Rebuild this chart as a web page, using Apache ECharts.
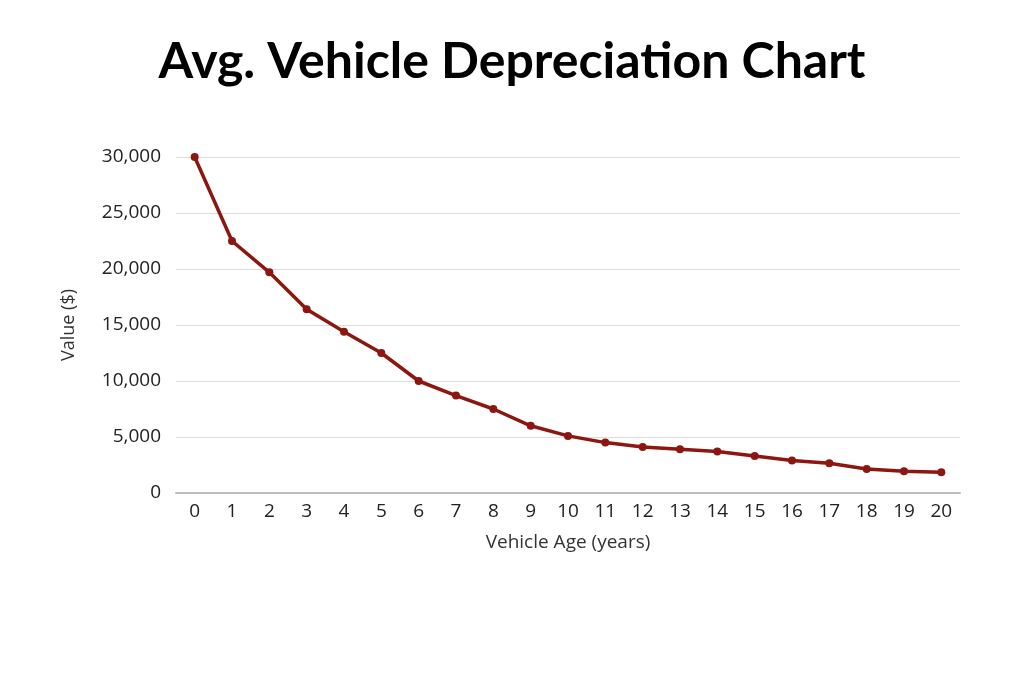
<!DOCTYPE html>
<html>
<head>
<meta charset="utf-8">
<script src="https://cdn.jsdelivr.net/npm/echarts@6/dist/echarts.min.js"></script>
<style>html,body{margin:0;padding:0;background:#fff}#c{width:1024px;height:683px}</style>
</head>
<body>
<div id="c"></div>
<script>
const titleText = "Avg. Vehicle Depreciation Chart";
const ages = ["0","1","2","3","4","5","6","7","8","9","10","11","12","13","14","15","16","17","18","19","20"];
const values = [30000,22500,19700,16400,14400,12500,10000,8700,7500,6000,5100,4500,4100,3900,3700,3300,2900,2650,2150,1950,1850];
const xName = "Vehicle Age (years)";
const yName = "Value ($)";

const chart = echarts.init(document.getElementById('c'));
chart.setOption({
  animation: false,
  title: {
    text: titleText, left: 'center', top: 32,
    textStyle: {fontFamily: 'Lato', fontWeight: 'bold', fontSize: 50, color: '#000'}
  },
  grid: {left: 176, right: 64, top: 157, bottom: 190, containLabel: false},
  xAxis: {
    type: 'category', data: ages, boundaryGap: true,
    name: xName, nameLocation: 'middle', nameGap: 40,
    nameTextStyle: {fontFamily: 'Open Sans', fontSize: 19, color: '#333'},
    axisLine: {lineStyle: {color: '#bdbdbd', width: 2}},
    axisTick: {show: false},
    axisLabel: {fontFamily: 'Open Sans', fontSize: 19, color: '#222', margin: 9}
  },
  yAxis: {
    type: 'value', min: 0, max: 30000, interval: 5000,
    name: yName, nameLocation: 'middle', nameGap: 98,
    nameTextStyle: {fontFamily: 'Open Sans', fontSize: 18, color: '#333'},
    axisLine: {show: false}, axisTick: {show: false},
    splitLine: {lineStyle: {color: '#dddddd', width: 1}},
    axisLabel: {fontFamily: 'Open Sans', fontSize: 19, color: '#222', margin: 15,
      formatter: v => v.toLocaleString('en-US')}
  },
  series: [{
    type: 'line', data: values,
    symbol: 'circle', symbolSize: 8,
    lineStyle: {color: '#8b1710', width: 3.5},
    itemStyle: {color: '#8b1710'}
  }]
});
</script>
</body>
</html>
